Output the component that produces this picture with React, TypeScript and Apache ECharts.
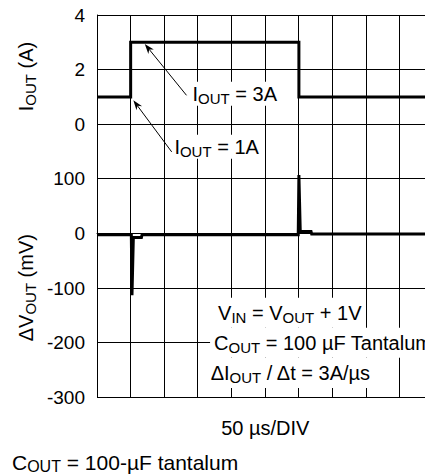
import React, { useEffect, useRef } from 'react';
import * as echarts from 'echarts';

const FONT = "'Liberation Sans', Arial, Helvetica, sans-serif";

// Time axis: 10 divisions of 50 µs (the last one is cut by the picture edge)
const X_MIN = 0;
const X_MAX = 500;
const X_STEP = 50;

// ΔV_OUT axis (mV), shares the full grid height
const MV_MIN = -300;
const MV_MAX = 400;
const MV_STEP = 100;
const mvTickLabels = [-300, -200, -100, 0, 100];

// I_OUT axis (A)
const A_MIN = -10;
const A_MAX = 4;
const A_STEP = 2;
const ampTickLabels = [0, 2, 4];

// I_OUT load step
const iTimeUs = [0, 50, 50, 300, 300, 500];
const iOutA = [1, 1, 3, 3, 1, 1];

// ΔV_OUT response
const vTimeUs = [0, 51, 52, 54, 66, 67, 299, 300, 302, 318, 319, 500];
const dvOutMv = [-2, -2, -113, -7, -7, -2, -2, 107, 4, 4, -1, -1];

// Grid geometry
const GRID_LEFT = 97;
const GRID_TOP = 15;
const GRID_W = 336.5;
const GRID_H = 382.5;

const px = (t: number) => GRID_LEFT + ((t - X_MIN) / (X_MAX - X_MIN)) * GRID_W;
const pyA = (a: number) => GRID_TOP + ((A_MAX - a) / (A_MAX - A_MIN)) * GRID_H;
const pyMv = (v: number) => GRID_TOP + ((MV_MAX - v) / (MV_MAX - MV_MIN)) * GRID_H;
const crisp = (p: number) => Math.floor(p) + 0.5;

// Grid-line positions = the axes' tick positions
const xGridTicks: number[] = [];
for (let t = X_MIN; t <= X_MAX; t += X_STEP) xGridTicks.push(t);
const yGridTicks: number[] = [];
for (let v = MV_MIN; v <= MV_MAX; v += MV_STEP) yGridTicks.push(v);

const rich = {
  m: { fontFamily: FONT, fontSize: 20, lineHeight: 24, fill: '#000', verticalAlign: 'middle' },
  s: { fontFamily: FONT, fontSize: 15, lineHeight: 10, fill: '#000', verticalAlign: 'bottom' },
  cm: { fontFamily: FONT, fontSize: 21, lineHeight: 25, fill: '#000', verticalAlign: 'middle' },
  cs: { fontFamily: FONT, fontSize: 16, lineHeight: 10, fill: '#000', verticalAlign: 'bottom' },
};

function buildGraphics() {
  const elements: any[] = [];

  // Grid lines at the tick positions
  xGridTicks.forEach((t) => {
    const x = crisp(px(t));
    elements.push({
      type: 'line',
      z: 100,
      silent: true,
      shape: { x1: x, y1: GRID_TOP, x2: x, y2: GRID_TOP + GRID_H },
      style: { stroke: '#000', lineWidth: 1 },
    });
  });
  yGridTicks.forEach((v) => {
    const y = crisp(pyMv(v));
    elements.push({
      type: 'line',
      z: 100,
      silent: true,
      shape: { x1: GRID_LEFT, y1: y, x2: GRID_LEFT + GRID_W, y2: y },
      style: { stroke: '#000', lineWidth: 1 },
    });
  });

  const label = (x: number, y: number, text: string, pad: number[]) => ({
    type: 'text',
    x,
    y,
    z: 102,
    style: {
      text,
      rich,
      fill: '#000',
      align: 'left',
      verticalAlign: 'middle',
      backgroundColor: '#fff',
      padding: pad,
    },
  });

  const arrow = (tail: number[], tip: number[]) => {
    const dx = tip[0] - tail[0];
    const dy = tip[1] - tail[1];
    const len = Math.hypot(dx, dy);
    const ux = dx / len;
    const uy = dy / len;
    const L = 10;
    const W = 3.5;
    const bx = tip[0] - ux * L;
    const by = tip[1] - uy * L;
    const nx = tip[0] - ux * L * 0.7;
    const ny = tip[1] - uy * L * 0.7;
    elements.push({
      type: 'line',
      z: 103,
      shape: { x1: tail[0], y1: tail[1], x2: nx, y2: ny },
      style: { stroke: '#000', lineWidth: 1 },
    });
    elements.push({
      type: 'polygon',
      z: 103,
      shape: {
        points: [
          [tip[0], tip[1]],
          [bx - uy * W, by + ux * W],
          [nx, ny],
          [bx + uy * W, by - ux * W],
        ],
      },
      style: { fill: '#000' },
    });
  };

  // Current annotations
  elements.push(label(px(139), pyA(1.12), '{m|I}{s|OUT}{m| = 3A}', [0, 2, 0, 2]));
  elements.push(label(px(112), pyA(-0.82), '{m|I}{s|OUT}{m| = 1A}', [0, 2, 0, 2]));
  arrow([px(133), pyA(1.06)], [px(71), pyA(2.94)]);
  arrow([px(111), pyA(-1.01)], [px(54), pyA(0.88)]);

  // Test conditions block
  elements.push(label(px(174), pyMv(-145), '{m|V}{s|IN}{m| = V}{s|OUT}{m| + 1V}', [3, 4, 3, 4]));
  elements.push(label(px(168), pyMv(-200), '{m|C}{s|OUT}{m| = 100 µF Tantalum}', [3, 4, 3, 4]));
  elements.push(label(px(163), pyMv(-255), '{m|ΔI}{s|OUT}{m| / Δt = 3A/µs}', [3, 4, 3, 4]));

  // Axis titles (rotated)
  elements.push({
    type: 'text',
    x: 26,
    y: pyA(1.75),
    rotation: Math.PI / 2,
    z: 102,
    style: { text: '{m|I}{s|OUT}{m| (A)}', rich, fill: '#000', align: 'center', verticalAlign: 'middle' },
  });
  elements.push({
    type: 'text',
    x: 26,
    y: pyMv(-99),
    rotation: Math.PI / 2,
    z: 102,
    style: { text: '{m|ΔV}{s|OUT}{m| (mV)}', rich, fill: '#000', align: 'center', verticalAlign: 'middle' },
  });

  // Caption
  elements.push({
    type: 'text',
    x: 12,
    y: 462,
    z: 102,
    style: { text: '{cm|C}{cs|OUT}{cm| = 100-µF tantalum}', rich, fill: '#000', align: 'left', verticalAlign: 'middle' },
  });

  return elements;
}

export default function App() {
  const ref = useRef<HTMLDivElement>(null);

  useEffect(() => {
    const chart = echarts.init(ref.current!, null, { renderer: 'svg' });
    chart.setOption({
      animation: false,
      backgroundColor: '#fff',
      grid: {
        left: GRID_LEFT,
        top: GRID_TOP,
        width: GRID_W,
        height: GRID_H,
        containLabel: false,
        outerBoundsMode: 'none',
      },
      xAxis: {
        type: 'value',
        min: X_MIN,
        max: X_MAX,
        interval: X_STEP,
        axisLine: { show: true, lineStyle: { color: '#000', width: 1 } },
        axisTick: { show: false },
        axisLabel: { show: false },
        splitLine: { show: false },
        name: '50 µs/DIV',
        nameLocation: 'middle',
        nameGap: 20,
        nameTextStyle: { fontFamily: FONT, fontSize: 20, color: '#000' },
      },
      yAxis: [
        {
          type: 'value',
          position: 'left',
          min: MV_MIN,
          max: MV_MAX,
          interval: MV_STEP,
          axisLine: { show: true, lineStyle: { color: '#000', width: 1 } },
          axisTick: { show: false },
          splitLine: { show: false },
          axisLabel: {
            margin: 12,
            fontFamily: FONT,
            fontSize: 19,
            color: '#000',
            formatter: (v: number) => (mvTickLabels.includes(v) ? String(v) : ''),
          },
        },
        {
          type: 'value',
          position: 'left',
          min: A_MIN,
          max: A_MAX,
          interval: A_STEP,
          axisLine: { show: false },
          axisTick: { show: false },
          splitLine: { show: false },
          axisLabel: {
            margin: 12,
            fontFamily: FONT,
            fontSize: 19,
            color: '#000',
            formatter: (v: number) => (ampTickLabels.includes(v) ? String(v) : ''),
          },
        },
      ],
      series: [
        {
          type: 'line',
          xAxisIndex: 0,
          yAxisIndex: 1,
          data: iTimeUs.map((t, i) => [t, iOutA[i]]),
          symbol: 'none',
          lineStyle: { color: '#000', width: 3, join: 'miter', cap: 'butt' },
          z: 101,
        },
        {
          type: 'line',
          xAxisIndex: 0,
          yAxisIndex: 0,
          data: vTimeUs.map((t, i) => [t, dvOutMv[i]]),
          symbol: 'none',
          lineStyle: { color: '#000', width: 3, join: 'miter', cap: 'butt' },
          z: 101,
        },
      ],
      graphic: { elements: buildGraphics() },
    });

    return () => chart.dispose();
  }, []);

  return <div ref={ref} style={{ position: 'absolute', left: 0, top: 0, width: 425, height: 476 }} />;
}
